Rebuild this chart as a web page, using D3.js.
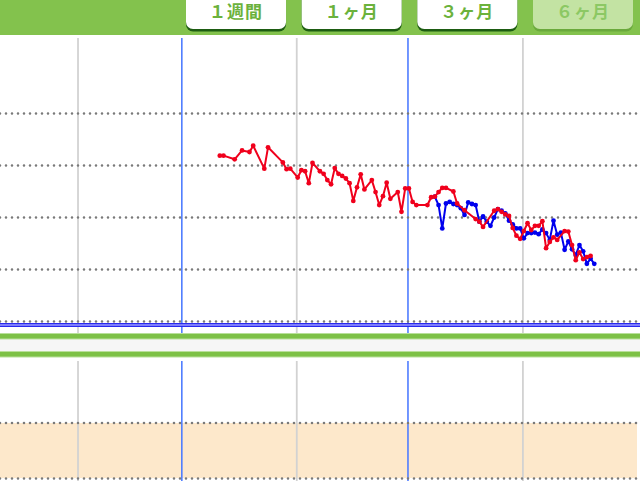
<!DOCTYPE html>
<html>
<head>
<meta charset="utf-8">
<script src="https://cdn.jsdelivr.net/npm/d3@7"></script>
<style>
  html, body { margin: 0; padding: 0; background: #fff; }
  svg { display: block; }
</style>
</head>
<body>
<svg id="chart" width="640" height="481"></svg>
<script>
// period buttons on the header
const periodLabels = ["１週間", "１ヶ月", "３ヶ月", "６ヶ月"];
const activePeriod = "６ヶ月";

// month boundaries (blue every other month)
const monthStarts = ["2015/02/01", "2015/03/01", "2015/04/01", "2015/05/01", "2015/06/01"];
const monthLineKinds = ["gray", "blue", "gray", "blue", "gray"];

// horizontal guide values (kg)
const weightTicks = [66, 67, 68, 69, 70];
const lowerTicks = [0, 2];
const lowerBand = [0, 2];

// red series
const redDates = ["03/11", "03/12", "03/15", "03/17", "03/19", "03/20", "03/23", "03/24", "03/28", "03/29", "03/30",
  "04/01", "04/02", "04/03", "04/04", "04/05", "04/07", "04/08", "04/09", "04/10", "04/11", "04/12", "04/13", "04/14",
  "04/15", "04/16", "04/17", "04/18", "04/19", "04/21", "04/22", "04/23", "04/24", "04/25", "04/26", "04/28", "04/29",
  "04/30", "05/01", "05/02", "05/03", "05/06", "05/07", "05/08", "05/09", "05/10", "05/11", "05/13", "05/14", "05/16",
  "05/19", "05/20", "05/21", "05/24", "05/25", "05/26", "05/27", "05/28", "05/29", "05/30", "05/31", "06/01", "06/02",
  "06/03", "06/04", "06/05", "06/06", "06/07", "06/08", "06/09", "06/10", "06/12", "06/13", "06/14", "06/15", "06/16",
  "06/17", "06/18", "06/19"];
const redValues = [69.18, 69.18, 69.11, 69.28, 69.25, 69.37, 68.93, 69.34, 69.05, 68.92, 68.93,
  68.76, 68.90, 68.88, 68.65, 69.04, 68.88, 68.83, 68.71, 68.63, 68.94, 68.83, 68.79, 68.74,
  68.65, 68.31, 68.57, 68.82, 68.53, 68.71, 68.48, 68.23, 68.40, 68.66, 68.35, 68.48, 68.10,
  68.55, 68.55, 68.29, 68.23, 68.23, 68.38, 68.39, 68.48, 68.56, 68.56, 68.49, 68.26, 68.13,
  67.96, 67.91, 67.81, 68.12, 68.15, 68.10, 68.05, 68.02, 67.79, 67.64, 67.58, 67.73, 67.88,
  67.75, 67.83, 67.83, 67.92, 67.40, 67.52, 67.61, 67.56, 67.73, 67.72, 67.46, 67.17, 67.32,
  67.19, 67.23, 67.25];

// blue series
const blueDates = ["05/08", "05/09", "05/10", "05/11", "05/12", "05/13", "05/14", "05/15", "05/16", "05/17", "05/18",
  "05/19", "05/20", "05/21", "05/22", "05/23", "05/24", "05/25", "05/26", "05/27", "05/28", "05/29", "05/30", "05/31",
  "06/01", "06/02", "06/03", "06/04", "06/05", "06/06", "06/07", "06/08", "06/09", "06/10", "06/11", "06/12", "06/13",
  "06/14", "06/15", "06/16", "06/17", "06/18", "06/19", "06/20"];
const blueValues = [68.39, 68.23, 67.78, 68.26, 68.29, 68.25, 68.23, 68.17, 68.04, 68.28, 68.25,
  68.23, 67.91, 68.01, 67.91, 67.83, 67.99, 68.15, 68.12, 68.07, 67.93, 67.86, 67.78, 67.78,
  67.59, 67.69, 67.69, 67.70, 67.67, 67.76, 67.69, 67.56, 67.93, 67.66, 67.70, 67.37, 67.53,
  67.38, 67.27, 67.46, 67.34, 67.10, 67.20, 67.10];

const W = 640, H = 481;
const svg = d3.select("#chart");
const parseDay = d3.timeParse("%Y/%m/%d");
const parsePoint = d3.timeParse("%Y/%m/%d %H");

// x is a time scale over the visible window
const x = d3.scaleTime()
  .domain([new Date(2015, 0, 10, 23), new Date(2015, 6, 2, 14)])
  .range([0, W]);
const y = d3.scaleLinear().domain([66, 70]).range([321, 113]);
const yLow = d3.scaleLinear().domain([0, 2]).range([478, 422.5]);

const C = {
  green: "#83c24d",
  greenDark: "#1d5c12",
  text: "#6bb23c",
  grid: "#d2d2d2",
  blueGrid: "#4f7dff",
  dots: "#7a7a7a",
  red: "#f0001c",
  blue: "#0000ee",
  band: "#fde8cb",
};

//------------- header -------------
svg.append("rect").attr("x", 0).attr("y", 0).attr("width", W).attr("height", 35).attr("fill", C.green);

const bx = d3.scaleBand().domain(periodLabels).range([186, 633]).paddingInner(0.135).paddingOuter(0);
const btn = svg.append("g").selectAll("g").data(periodLabels).join("g");
btn.append("rect")
  .attr("x", (d) => bx(d))
  .attr("y", -10)
  .attr("width", bx.bandwidth())
  .attr("height", 41.5)
  .attr("rx", 7)
  .attr("fill", (d) => (d === activePeriod ? "#6aa93c" : C.greenDark));
btn.append("rect")
  .attr("x", (d) => bx(d))
  .attr("y", -10)
  .attr("width", bx.bandwidth())
  .attr("height", 39)
  .attr("rx", 7)
  .attr("fill", (d) => (d === activePeriod ? "#c3e3a3" : "#fff"));
btn.append("text")
  .attr("x", (d) => bx(d) + bx.bandwidth() / 2)
  .attr("y", 18)
  .attr("text-anchor", "middle")
  .attr("font-family", "'Noto Sans CJK JP', sans-serif")
  .attr("font-weight", "bold")
  .attr("font-size", 17)
  .attr("letter-spacing", 1)
  .attr("fill", (d) => (d === activePeriod ? "#8cc864" : C.text))
  .text((d) => d);

//------------- lower panel band -------------
svg.append("rect")
  .attr("x", 0)
  .attr("y", yLow(lowerBand[1]) + 0.5)
  .attr("width", 637)
  .attr("height", yLow(lowerBand[0]) - yLow(lowerBand[1]) - 0.5)
  .attr("fill", C.band);

//------------- month lines -------------
const months = monthStarts.map((m, i) => ({ date: parseDay(m), kind: monthLineKinds[i] }));
[[38, 333], [361, H]].forEach(([y0, y1]) => {
  svg.append("g")
    .selectAll("line")
    .data(months)
    .join("line")
    .attr("x1", (d) => x(d.date))
    .attr("x2", (d) => x(d.date))
    .attr("y1", y0)
    .attr("y2", y1)
    .attr("stroke", (d) => (d.kind === "blue" ? C.blueGrid : C.grid))
    .attr("stroke-width", (d) => (d.kind === "blue" ? 1.6 : 1.8));
});

// dotted guides
function dotted(g, yy) {
  g.attr("x1", 0).attr("x2", W)
    .attr("y1", yy).attr("y2", yy)
    .attr("stroke", C.dots)
    .attr("stroke-width", 2.6)
    .attr("stroke-linecap", "round")
    .attr("stroke-dasharray", "0 6");
}
svg.append("g").selectAll("line").data(weightTicks).join("line").call((s) => dotted(s, (d) => y(d) + 0.5));
svg.append("g").selectAll("line").data(lowerTicks).join("line").call((s) => dotted(s, (d) => yLow(d) + 0.5));

//------------- baseline + separator -------------
svg.append("rect").attr("x", 0).attr("y", 323).attr("width", W).attr("height", 4).attr("fill", "#9a9aff");
svg.append("line").attr("x1", 0).attr("x2", W).attr("y1", 323.6).attr("y2", 323.6).attr("stroke", "#2a2aee").attr("stroke-width", 1.2);
svg.append("line").attr("x1", 0).attr("x2", W).attr("y1", 326.4).attr("y2", 326.4).attr("stroke", "#2a2aee").attr("stroke-width", 1.2);

svg.append("rect").attr("x", 0).attr("y", 339).attr("width", W).attr("height", 12).attr("fill", "#f6f6f6");
[333, 351].forEach((yy) => {
  svg.append("rect").attr("x", 0).attr("y", yy).attr("width", W).attr("height", 6.5).attr("fill", "#b9e09a");
  svg.append("rect").attr("x", 0).attr("y", yy + 1).attr("width", W).attr("height", 4.5).attr("fill", "#7dc146");
});

//------------- series -------------
function series(dates, values, color) {
  const pts = dates.map((d, i) => ({ t: parsePoint("2015/" + d + " 6"), v: values[i] }));
  const line = d3.line().x((d) => x(d.t)).y((d) => y(d.v));
  const g = svg.append("g");
  g.append("path")
    .attr("d", line(pts))
    .attr("fill", "none")
    .attr("stroke", color)
    .attr("stroke-width", 2)
    .attr("stroke-linejoin", "round");
  g.selectAll("circle")
    .data(pts)
    .join("circle")
    .attr("cx", (d) => x(d.t))
    .attr("cy", (d) => y(d.v))
    .attr("r", 2.4)
    .attr("fill", color);
}
series(blueDates, blueValues, C.blue);
series(redDates, redValues, C.red);
</script>
</body>
</html>
